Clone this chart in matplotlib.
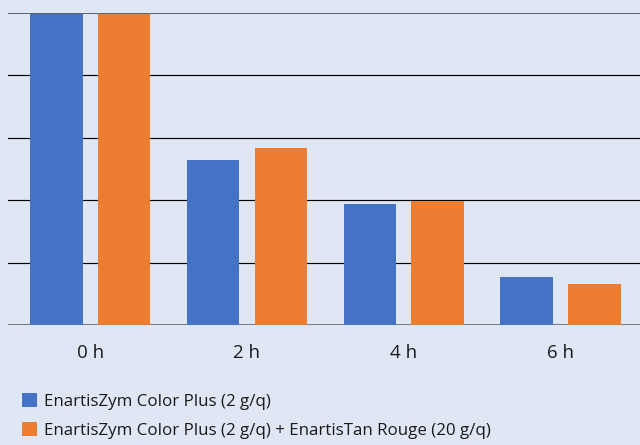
import matplotlib.pyplot as plt
import numpy as np

times = ['0 h', '2 h', '4 h', '6 h']
color_plus = [100, 52.9, 38.8, 15.4]
color_plus_tan = [100, 56.7, 39.7, 13.1]
labels = ['EnartisZym Color Plus (2 g/q)',
          'EnartisZym Color Plus (2 g/q) + EnartisTan Rouge (20 g/q)']

bg = '#dfe7f5'
font = ['Open Sans', 'DejaVu Sans']

fig = plt.figure(figsize=(6.4, 4.45), dpi=100, facecolor=bg)
ax = fig.add_axes([0.013, 0.2697, 0.987, 0.701])
ax.set_facecolor(bg)

x = np.arange(len(times))
width = 0.336
ax.bar(x - 0.216, color_plus, width, color='#4472c4', label=labels[0], zorder=2)
ax.bar(x + 0.216, color_plus_tan, width, color='#ed7d31', label=labels[1], zorder=2)

for y in [20, 40, 60, 80]:
    ax.axhline(y, color='black', lw=0.85, zorder=1)
ax.axhline(100, color='#5d6470', lw=1.4, zorder=3)
ax.axhline(0, color='#6b6f78', lw=1.3, zorder=1)

ax.set_xlim(-0.523, 3.508)
ax.set_ylim(0, 100)
for s in ax.spines.values():
    s.set_visible(False)
ax.set_yticks([])
ax.set_xticks(x)
ax.set_xticklabels(times, family=font, fontsize=13.5, color='#1a1a1a')
ax.tick_params(axis='x', length=0, pad=13.5)

leg = ax.legend(loc='upper left', bbox_to_anchor=(0.034, 0.116),
                bbox_transform=fig.transFigure, frameon=False,
                prop={'family': font, 'size': 12.2},
                handlelength=0.9, handleheight=0.9, handletextpad=0.4,
                labelspacing=0.7, borderpad=0, borderaxespad=0)
for t in leg.get_texts():
    t.set_color('#1a1a1a')

fig.savefig('out.png', dpi=100, facecolor=bg)
